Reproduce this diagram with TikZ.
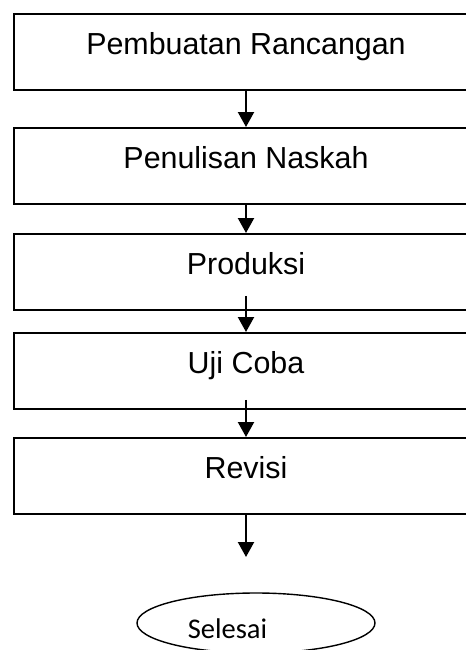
\documentclass[tikz,border=0pt]{standalone}
\usepackage{fontspec}
\setmainfont{Liberation Sans}
\newfontfamily\calibrifont{Carlito}
\usepackage{tikz}
\usetikzlibrary{positioning,arrows.meta,shapes.geometric}

\begin{document}
\begin{tikzpicture}[
    x=0.5pt,y=-0.5pt,
    stepbox/.style={rectangle,draw,line width=0.9pt,inner xsep=0pt,inner ysep=0pt,
      minimum width=232pt,text height=20.5pt,text depth=17.5pt,anchor=north,
      font=\fontsize{15.2}{18}\selectfont},
    arr/.style={-{Triangle[length=7.5pt,width=8pt]},line width=1.1pt},
    endnode/.style={ellipse,draw,line width=0.7pt,inner sep=0pt,
      minimum width=119pt,minimum height=30pt},
    lab/.style={font=\calibrifont\fontsize{14.25}{17}\selectfont,anchor=base}
  ]
    \useasboundingbox (0,0) rectangle (466,650);
    \clip (0,0) rectangle (466,650);
    \node[stepbox] (rancang) at (246,13) {Pembuatan Rancangan};
    \node[stepbox] (naskah) at (246,127) {Penulisan Naskah};
    \node[stepbox] (produksi) at (246,233) {Produksi};
    \node[stepbox] (uji) at (246,332) {Uji Coba};
    \node[stepbox] (revisi) at (246,437) {Revisi};
    \node[endnode] (selesai) at (256,623) {};
    \node[lab] (selesai-txt) at (227.5,638) {Selesai};
    \coordinate (akhir) at (246,557);
    \draw[arr] (rancang.south) -- (naskah.north);
    \draw[arr] (naskah.south) -- (produksi.north);
    \draw[arr] ([yshift=7.5pt]produksi.south) -- (uji.north);
    \draw[arr] ([yshift=5pt]uji.south) -- (revisi.north);
    \draw[arr] (revisi.south) -- (akhir);
  \end{tikzpicture}
\end{document}
